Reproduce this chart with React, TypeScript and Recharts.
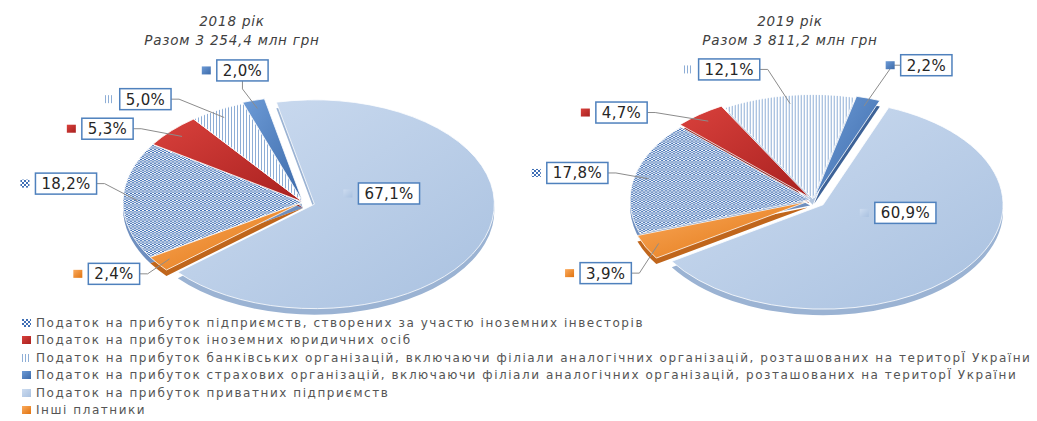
import React from "react";
import { PieChart, Pie, Cell, Legend } from "recharts";

const categories = [
  "Податок на прибуток підприємств, створених за участю іноземних інвесторів",
  "Податок на прибуток іноземних юридичних осіб",
  "Податок на прибуток банківських організацій, включаючи філіали аналогічних організацій, розташованих на територЇ України",
  "Податок на прибуток страхових організацій, включаючи філіали аналогічних організацій, розташованих на територЇ України",
  "Податок на прибуток приватних підприємств",
  "Інші платники",
];
const years = ["2018 рік", "2019 рік"];
const totals = ["Разом 3 254,4 млн грн", "Разом 3 811,2 млн грн"];
const shares2018 = [18.2, 5.3, 5.0, 2.0, 67.1, 2.4];
const shares2019 = [17.8, 4.7, 12.1, 2.2, 60.9, 3.9];

const fills = ["url(#pCross)", "url(#gRed)", "url(#pLines)", "url(#gBlue)", "url(#gLight)", "url(#gOrange)"];
const sideFills = ["#6f8fbf", "#8c2422", "#b3c6df", "#3d6297", "#9bb3d3", "#c0661c"];

const W = 1037;
const H = 421;
const K = 0.58; // vertical squash of the tilted pie
const R = 180;
const DEPTH = 6;
const LABEL_FS = 15;

type PieCfg = {
  values: number[];
  cx: number;
  cy: number;
  start: number;
  explode: number[];
  labelOff: [number, number][];
  leader: boolean[];
  titleX: number;
};

const pies: PieCfg[] = [
  {
    values: shares2018,
    cx: 303,
    cy: 202,
    start: -148,
    explode: [0, 0, 0, 2, 12, 0],
    labelOff: [[-57, -17], [-64, -2], [-72, -11], [-11, -30], [-96, -44], [-44, 10]],
    leader: [true, true, true, true, false, true],
    titleX: 232,
  },
  {
    values: shares2019,
    cx: 813,
    cy: 200,
    start: -161,
    explode: [3, 6, 2, 4, 13, 6],
    labelOff: [[-57, -4], [-78, -2], [-59, -26], [58, -33], [-57, -58], [-40, 26]],
    leader: [true, true, true, true, false, true],
    titleX: 790,
  },
];

const fmt = (v: number) => v.toFixed(1).replace(".", ",") + "%";

function textW(s: string, fs: number, ls: number) {
  let w = 0;
  for (const ch of s) w += ch === "," ? 0.318 : ch === "%" ? 0.95 : 0.636;
  return w * fs + ls * s.length;
}

// mid angle of every slice, same rule the Pie uses
function midAngles(values: number[], start: number) {
  const total = values.reduce((a, b) => a + b, 0);
  let acc = 0;
  return values.map((v) => {
    const m = start - ((acc + v / 2) / total) * 360;
    acc += v;
    return m;
  });
}

// squash around the centre line, plus a drop for the 3D side and the explode shift
function sectorTransform(cy: number, drop: number, mid: number, explode: number) {
  const r = (mid * Math.PI) / 180;
  return (
    `translate(0 ${drop}) translate(0 ${cy}) scale(1 ${K}) translate(0 ${-cy}) ` +
    `translate(${explode * Math.cos(r)} ${-explode * Math.sin(r)})`
  );
}

function makeLabel(cfg: PieCfg) {
  return (props: any) => {
    const { cx, cy, midAngle, outerRadius, index, value } = props;
    const rad = (midAngle * Math.PI) / 180;
    const e = cfg.explode[index];
    const ex = cx + (outerRadius + e) * Math.cos(rad);
    const ey = cy - (outerRadius + e) * Math.sin(rad) * K;
    const [dx, dy] = cfg.labelOff[index];
    const lx = ex + dx;
    const ly = ey + dy;
    const text = fmt(value);
    const bw = textW(text, LABEL_FS, 0.3) + 12;
    const bh = 21;
    const bx = lx - bw / 2;
    const by = ly - bh / 2;
    let leader = null;
    if (cfg.leader[index]) {
      const ix = cx + (outerRadius * 0.92 + e) * Math.cos(rad);
      const iy = cy - (outerRadius * 0.92 + e) * Math.sin(rad) * K;
      let ax, ay, kx, ky;
      if (Math.abs(dy) > Math.abs(dx)) {
        ax = lx;
        ay = dy < 0 ? by + bh : by;
        kx = ax;
        ky = ay + (dy < 0 ? 8 : -8);
      } else {
        ax = dx < 0 ? bx + bw : bx;
        ay = ly;
        kx = ax + (dx < 0 ? 8 : -8);
        ky = ay;
      }
      leader = (
        <polyline
          points={`${ax},${ay} ${kx},${ky} ${ix},${iy}`}
          fill="none"
          stroke="#8c8c8c"
          strokeWidth={1}
        />
      );
    }
    return (
      <g>
        {leader}
        <rect x={bx - 15} y={ly - 4} width={9} height={8} fill={fills[index]} />
        <rect x={bx} y={by} width={bw} height={bh} fill="#ffffff" stroke="#4f81bd" strokeWidth={1.5} />
        <text
          x={lx}
          y={ly + 5.5}
          textAnchor="middle"
          fontFamily="DejaVu Sans"
          fontSize={LABEL_FS}
          letterSpacing={0.3}
          fill="#262626"
        >
          {text}
        </text>
      </g>
    );
  };
}

const renderLegend = () => (
  <div style={{ fontFamily: "DejaVu Sans", fontSize: 12, letterSpacing: 1.55, color: "#555555" }}>
    {categories.map((c, i) => (
      <div key={c} style={{ height: 17.5, display: "flex", alignItems: "center", whiteSpace: "nowrap" }}>
        <svg width={9} height={8} style={{ marginRight: 5, flex: "none" }}>
          <rect width={9} height={8} fill={fills[i]} />
        </svg>
        {c}
      </div>
    ))}
  </div>
);

export default function App() {
  return (
    <div style={{ position: "relative", width: W, height: H, background: "#ffffff", overflow: "hidden" }}>
      <style>{"body{margin:0}"}</style>
      <svg width={0} height={0} style={{ position: "absolute" }}>
        <defs>
          <pattern id="pCross" width="4" height="4" patternUnits="userSpaceOnUse">
            <rect width="4" height="4" fill="#ffffff" />
            <rect width="2" height="2" fill="#3f6fb5" />
            <rect x="2" y="2" width="2" height="2" fill="#3f6fb5" />
          </pattern>
          <pattern id="pLines" width="3" height="4" patternUnits="userSpaceOnUse">
            <rect width="3" height="4" fill="#ffffff" />
            <rect width="1" height="4" fill="#8eaed6" />
          </pattern>
          <linearGradient id="gLight" x1="0" y1="0" x2="1" y2="1">
            <stop offset="0" stopColor="#cddcf0" />
            <stop offset="1" stopColor="#a9c1e0" />
          </linearGradient>
          <linearGradient id="gBlue" x1="0" y1="0" x2="1" y2="1">
            <stop offset="0" stopColor="#6d9bd6" />
            <stop offset="1" stopColor="#3c6aaa" />
          </linearGradient>
          <linearGradient id="gRed" x1="0" y1="0" x2="1" y2="1">
            <stop offset="0" stopColor="#d9413c" />
            <stop offset="1" stopColor="#a8201f" />
          </linearGradient>
          <linearGradient id="gOrange" x1="0" y1="0" x2="1" y2="1">
            <stop offset="0" stopColor="#fbab5e" />
            <stop offset="1" stopColor="#e0730f" />
          </linearGradient>
        </defs>
      </svg>
      {pies.map((p, j) => (
        <div
          key={years[j]}
          style={{
            position: "absolute",
            left: p.titleX - 150,
            top: 12,
            width: 300,
            textAlign: "center",
            fontFamily: "DejaVu Sans",
            fontStyle: "italic",
            fontSize: 13.5,
            letterSpacing: 0.8,
            lineHeight: "19px",
            color: "#404040",
          }}
        >
          <div>{years[j]}</div>
          <div>{totals[j]}</div>
        </div>
      ))}
      <PieChart width={W} height={H} margin={{ top: 0, right: 0, bottom: 0, left: 0 }}>
        {pies.map((p, j) => {
          const data = categories.map((name, i) => ({ name, value: p.values[i] }));
          const mids = midAngles(p.values, p.start);
          return [
            <Pie
              key={years[j] + "-side"}
              data={data}
              dataKey="value"
              nameKey="name"
              cx={p.cx}
              cy={p.cy}
              outerRadius={R}
              startAngle={p.start}
              endAngle={p.start - 360}
              stroke="none"
              legendType="none"
              isAnimationActive={false}
            >
              {data.map((d, i) => (
                <Cell
                  key={d.name}
                  fill={sideFills[i]}
                  transform={sectorTransform(p.cy, DEPTH, mids[i], p.explode[i])}
                />
              ))}
            </Pie>,
            <Pie
              key={years[j]}
              data={data}
              dataKey="value"
              nameKey="name"
              cx={p.cx}
              cy={p.cy}
              outerRadius={R}
              startAngle={p.start}
              endAngle={p.start - 360}
              stroke="#ffffff"
              strokeWidth={1}
              label={makeLabel(p)}
              labelLine={false}
              isAnimationActive={false}
            >
              {data.map((d, i) => (
                <Cell
                  key={d.name}
                  fill={fills[i]}
                  transform={sectorTransform(p.cy, 0, mids[i], p.explode[i])}
                />
              ))}
            </Pie>,
          ];
        })}
        <Legend
          layout="horizontal"
          verticalAlign="bottom"
          align="left"
          content={renderLegend}
          wrapperStyle={{ position: "absolute", left: 22, top: 314, bottom: "auto", width: 1015 }}
        />
      </PieChart>
    </div>
  );
}
